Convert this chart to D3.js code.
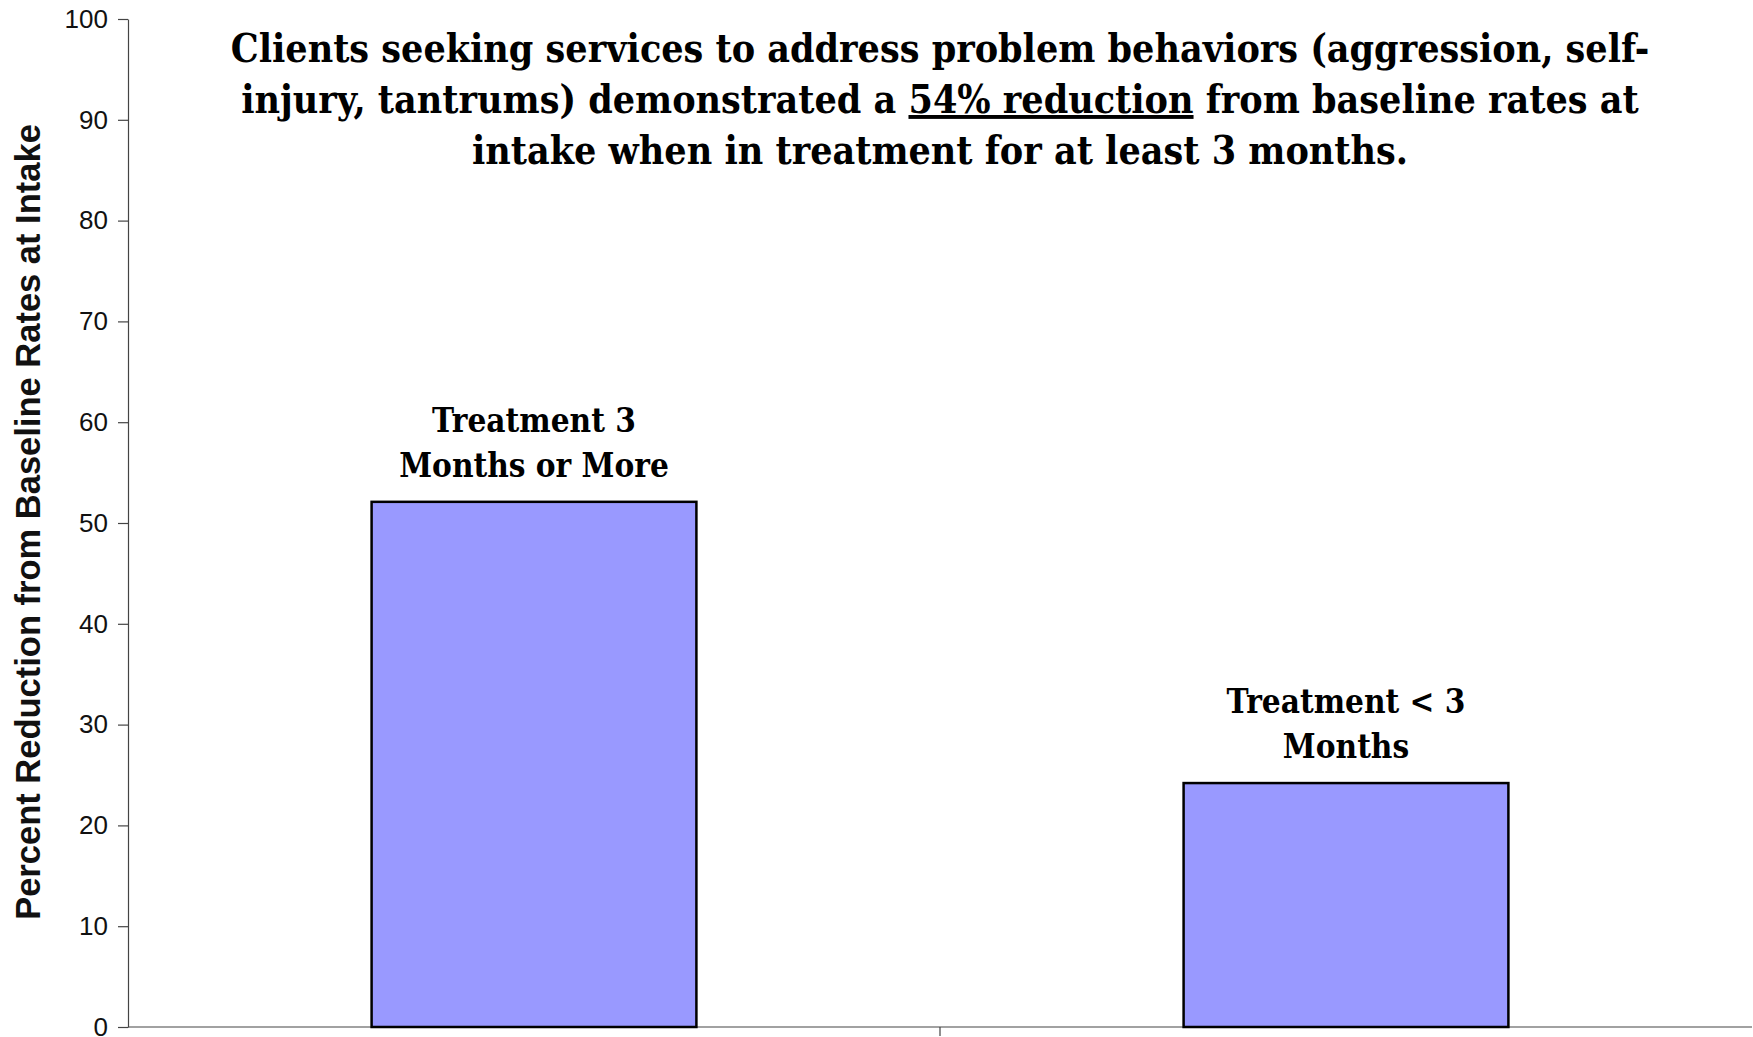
<!DOCTYPE html>
<html>
<head>
  <meta charset="UTF-8">
  <script src="https://d3js.org/d3.v7.min.js"></script>
  <style>
    body { margin: 0; background: #fff; }
    .tick text { font-family: "Liberation Sans", Arial, sans-serif; }
  </style>
</head>
<body>
<script>
// chart data
const categories = ["Treatment 3 Months or More", "Treatment < 3 Months"];
const barLabels = [["Treatment 3", "Months or More"], ["Treatment < 3", "Months"]];
const values = [52.1, 24.2];
const yTicks = [0, 10, 20, 30, 40, 50, 60, 70, 80, 90, 100];
const yLabel = "Percent Reduction from Baseline Rates at Intake";
// each title line is a list of [text, underlined]
const titleLines = [
  [["Clients seeking services to address problem behaviors (aggression, self-", false]],
  [["injury, tantrums) demonstrated a ", false], ["54% reduction", true], [" from baseline rates at", false]],
  [["intake when in treatment for at least 3 months.", false]]
];

const W = 1753, H = 1037;
const margin = {top: 19, right: 1, bottom: 10, left: 128};

const svg = d3.select("body").append("svg")
  .attr("width", W)
  .attr("height", H);

const y = d3.scaleLinear()
  .domain([0, 100])
  .range([H - margin.bottom, margin.top]);

const x = d3.scaleBand()
  .domain(categories)
  .range([margin.left, W - margin.right])
  .paddingInner(0.6)
  .paddingOuter(0.3);

// y axis
const yAxis = svg.append("g")
  .attr("transform", "translate(" + margin.left + ",0)")
  .call(d3.axisLeft(y).tickValues(yTicks).tickSize(10).tickSizeOuter(0).tickPadding(10));
yAxis.select(".domain").attr("stroke", "#444").attr("stroke-width", 1.2);
yAxis.selectAll(".tick line").attr("stroke", "#444").attr("stroke-width", 1.2);
yAxis.selectAll(".tick text").attr("font-size", 26).attr("fill", "#111");

// x axis line with ticks on category boundaries
const x0 = y(0);
svg.append("line")
  .attr("x1", margin.left).attr("x2", W - margin.right)
  .attr("y1", x0).attr("y2", x0)
  .attr("stroke", "#444").attr("stroke-width", 1.2);
const bounds = categories.slice(1).map(c => x(c) - x.step() * x.paddingInner() / 2);
svg.selectAll(".xtick")
  .data(bounds)
  .enter().append("line")
  .attr("class", "xtick")
  .attr("x1", d => d).attr("x2", d => d)
  .attr("y1", x0).attr("y2", x0 + 9)
  .attr("stroke", "#444").attr("stroke-width", 1.2);

// bars
svg.selectAll(".bar")
  .data(values)
  .enter().append("rect")
  .attr("class", "bar")
  .attr("x", (d, i) => x(categories[i]))
  .attr("y", d => y(d))
  .attr("width", x.bandwidth())
  .attr("height", d => y(0) - y(d))
  .attr("fill", "#9999ff")
  .attr("stroke", "#000")
  .attr("stroke-width", 2.5);

// labels above the bars
const serif = "'DejaVu Serif Condensed', 'DejaVu Serif', serif";
barLabels.forEach(function(lines, i) {
  const t = svg.append("text")
    .attr("text-anchor", "middle")
    .attr("font-family", serif)
    .attr("font-weight", "bold")
    .attr("font-size", 33)
    .attr("fill", "#000");
  lines.forEach(function(line, j) {
    t.append("tspan")
      .attr("x", x(categories[i]) + x.bandwidth() / 2)
      .attr("y", y(values[i]) - 25 - (lines.length - 1 - j) * 45)
      .text(line);
  });
});

// title
const cx = (margin.left + W - margin.right) / 2;
titleLines.forEach(function(parts, j) {
  const t = svg.append("text")
    .attr("x", cx)
    .attr("y", 62 + j * 51)
    .attr("text-anchor", "middle")
    .attr("font-family", serif)
    .attr("font-weight", "bold")
    .attr("font-size", 39)
    .attr("fill", "#000");
  parts.forEach(function(p) {
    t.append("tspan")
      .attr("text-decoration", p[1] ? "underline" : null)
      .style("white-space", "pre")
      .text(p[0]);
  });
});

// y axis title
svg.append("text")
  .attr("transform", "translate(40," + ((125 + 919) / 2) + ") rotate(-90)")
  .attr("text-anchor", "middle")
  .attr("font-family", "'Liberation Sans', Arial, sans-serif")
  .attr("font-weight", "bold")
  .attr("font-size", 34.5)
  .attr("fill", "#111")
  .text(yLabel);
</script>
</body>
</html>
